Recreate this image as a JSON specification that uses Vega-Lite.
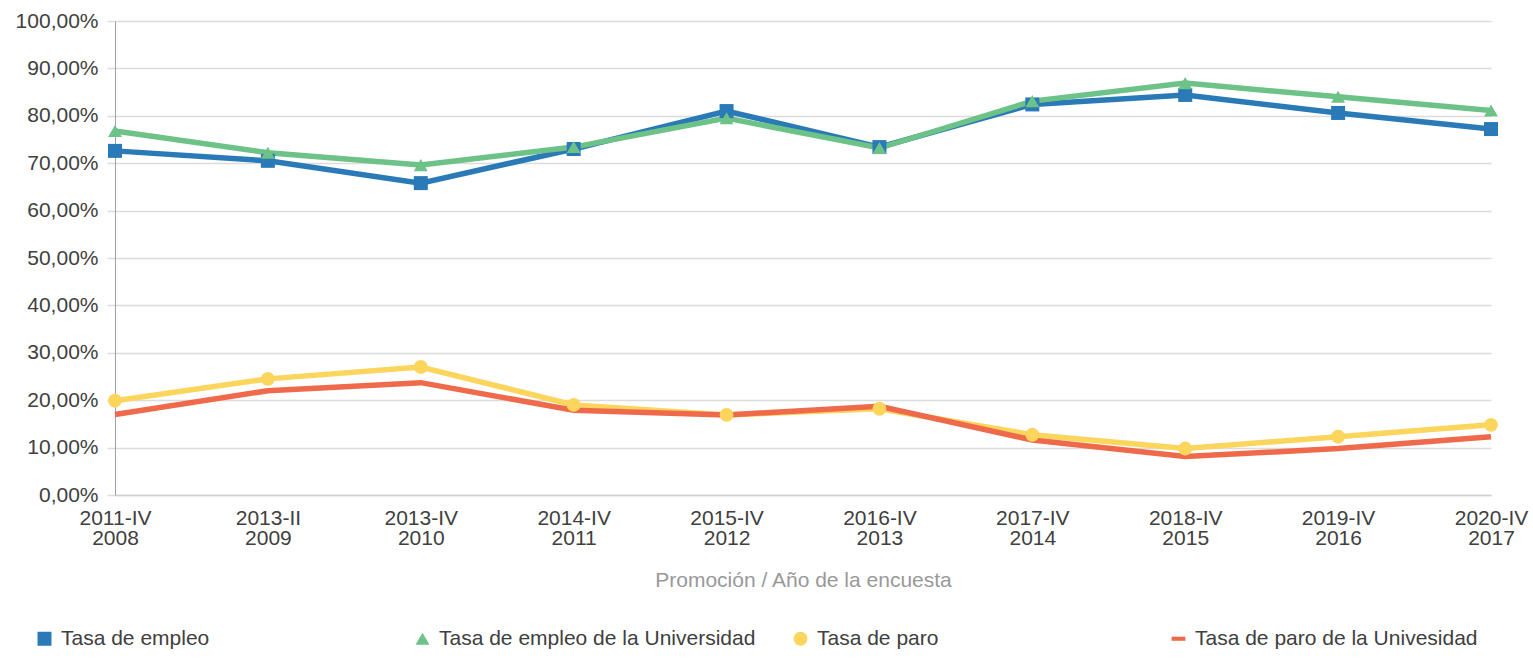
{
  "$schema": "https://vega.github.io/schema/vega-lite/v6.json",
  "width": 1376,
  "height": 474,
  "autosize": {"type": "none"},
  "padding": {"left": 115, "top": 21, "right": 42, "bottom": 165},
  "background": "white",
  "config": {"font": "Liberation Sans", "view": {"stroke": null}},
  "data": {
    "values": [
      {"periodo": "2011-IV|2008", "serie": "Tasa de empleo", "valor": 72.6},
      {"periodo": "2013-II|2009", "serie": "Tasa de empleo", "valor": 70.5},
      {"periodo": "2013-IV|2010", "serie": "Tasa de empleo", "valor": 65.8},
      {"periodo": "2014-IV|2011", "serie": "Tasa de empleo", "valor": 73.0},
      {"periodo": "2015-IV|2012", "serie": "Tasa de empleo", "valor": 81.0},
      {"periodo": "2016-IV|2013", "serie": "Tasa de empleo", "valor": 73.4},
      {"periodo": "2017-IV|2014", "serie": "Tasa de empleo", "valor": 82.4},
      {"periodo": "2018-IV|2015", "serie": "Tasa de empleo", "valor": 84.4},
      {"periodo": "2019-IV|2016", "serie": "Tasa de empleo", "valor": 80.6},
      {"periodo": "2020-IV|2017", "serie": "Tasa de empleo", "valor": 77.2},
      {"periodo": "2011-IV|2008", "serie": "Tasa de empleo de la Universidad", "valor": 76.8},
      {"periodo": "2013-II|2009", "serie": "Tasa de empleo de la Universidad", "valor": 72.2},
      {"periodo": "2013-IV|2010", "serie": "Tasa de empleo de la Universidad", "valor": 69.6},
      {"periodo": "2014-IV|2011", "serie": "Tasa de empleo de la Universidad", "valor": 73.4},
      {"periodo": "2015-IV|2012", "serie": "Tasa de empleo de la Universidad", "valor": 79.5},
      {"periodo": "2016-IV|2013", "serie": "Tasa de empleo de la Universidad", "valor": 73.2},
      {"periodo": "2017-IV|2014", "serie": "Tasa de empleo de la Universidad", "valor": 83.1},
      {"periodo": "2018-IV|2015", "serie": "Tasa de empleo de la Universidad", "valor": 86.9},
      {"periodo": "2019-IV|2016", "serie": "Tasa de empleo de la Universidad", "valor": 84.0},
      {"periodo": "2020-IV|2017", "serie": "Tasa de empleo de la Universidad", "valor": 81.1},
      {"periodo": "2011-IV|2008", "serie": "Tasa de paro", "valor": 19.9},
      {"periodo": "2013-II|2009", "serie": "Tasa de paro", "valor": 24.5},
      {"periodo": "2013-IV|2010", "serie": "Tasa de paro", "valor": 27.0},
      {"periodo": "2014-IV|2011", "serie": "Tasa de paro", "valor": 19.0},
      {"periodo": "2015-IV|2012", "serie": "Tasa de paro", "valor": 16.9},
      {"periodo": "2016-IV|2013", "serie": "Tasa de paro", "valor": 18.2},
      {"periodo": "2017-IV|2014", "serie": "Tasa de paro", "valor": 12.7},
      {"periodo": "2018-IV|2015", "serie": "Tasa de paro", "valor": 9.8},
      {"periodo": "2019-IV|2016", "serie": "Tasa de paro", "valor": 12.3},
      {"periodo": "2020-IV|2017", "serie": "Tasa de paro", "valor": 14.8},
      {"periodo": "2011-IV|2008", "serie": "Tasa de paro de la Univesidad", "valor": 17.0},
      {"periodo": "2013-II|2009", "serie": "Tasa de paro de la Univesidad", "valor": 22.0},
      {"periodo": "2013-IV|2010", "serie": "Tasa de paro de la Univesidad", "valor": 23.7},
      {"periodo": "2014-IV|2011", "serie": "Tasa de paro de la Univesidad", "valor": 17.9},
      {"periodo": "2015-IV|2012", "serie": "Tasa de paro de la Univesidad", "valor": 16.9},
      {"periodo": "2016-IV|2013", "serie": "Tasa de paro de la Univesidad", "valor": 18.7},
      {"periodo": "2017-IV|2014", "serie": "Tasa de paro de la Univesidad", "valor": 11.6},
      {"periodo": "2018-IV|2015", "serie": "Tasa de paro de la Univesidad", "valor": 8.1},
      {"periodo": "2019-IV|2016", "serie": "Tasa de paro de la Univesidad", "valor": 9.8},
      {"periodo": "2020-IV|2017", "serie": "Tasa de paro de la Univesidad", "valor": 12.3}
    ]
  },
  "encoding": {
    "x": {
      "field": "periodo",
      "type": "ordinal",
      "sort": null,
      "scale": {"type": "point", "padding": 0},
      "axis": {
        "title": "Promoción / Año de la encuesta",
        "labelExpr": "split(datum.label, '|')",
        "labelAngle": 0,
        "labelFontSize": 21,
        "labelLineHeight": 20,
        "labelColor": "#404040",
        "labelPadding": 12,
        "labelLimit": 0,
        "ticks": false,
        "grid": false,
        "domainColor": "#d0d0d0",
        "domainWidth": 1.5,
        "titleColor": "#999999",
        "titleFontSize": 21,
        "titleFontWeight": "normal",
        "titlePadding": 21
      }
    },
    "y": {
      "field": "valor",
      "type": "quantitative",
      "scale": {"domain": [0, 100]},
      "axis": {
        "title": null,
        "values": [0, 10, 20, 30, 40, 50, 60, 70, 80, 90, 100],
        "labelExpr": "replace(format(datum.value, '.2f'), '.', ',') + '%'",
        "labelFontSize": 21,
        "labelColor": "#404040",
        "labelPadding": 9,
        "labelLimit": 0,
        "tickSize": 8,
        "tickColor": "#dcdcdc",
        "tickWidth": 1.5,
        "domainColor": "#a0a0a0",
        "gridColor": "#dcdcdc",
        "gridWidth": 1.5
      }
    },
    "color": {
      "field": "serie",
      "type": "nominal",
      "scale": {
        "domain": ["Tasa de empleo", "Tasa de empleo de la Universidad", "Tasa de paro", "Tasa de paro de la Univesidad"],
        "range": ["#2a7ab8", "#6cc287", "#fbd55c", "#ef6a4a"]
      },
      "legend": {
        "title": null,
        "orient": "none",
        "legendX": -81,
        "legendY": 607,
        "direction": "horizontal",
        "columns": 4,
        "gridAlign": "all",
        "columnPadding": 34,
        "labelFontSize": 21,
        "labelColor": "#404040",
        "labelOffset": 6,
        "labelLimit": 0,
        "symbolSize": 220,
        "symbolStrokeWidth": 0,
        "symbolOpacity": 1,
        "padding": 0
      }
    }
  },
  "layer": [
    {"mark": {"type": "line", "strokeWidth": 5.5}},
    {
      "transform": [{"filter": "datum.serie !== 'Tasa de paro de la Univesidad'"}],
      "mark": {"type": "point", "filled": true, "opacity": 1},
      "encoding": {
        "shape": {
          "field": "serie",
          "type": "nominal",
          "scale": {
            "domain": ["Tasa de empleo", "Tasa de empleo de la Universidad", "Tasa de paro", "Tasa de paro de la Univesidad"],
            "range": ["square", "triangle-up", "circle", "M-1,-0.3L1,-0.3L1,0.3L-1,0.3Z"]
          }
        },
        "size": {
          "field": "serie",
          "type": "nominal",
          "scale": {
            "domain": ["Tasa de empleo", "Tasa de empleo de la Universidad", "Tasa de paro", "Tasa de paro de la Univesidad"],
            "range": [196, 190, 140, 100]
          },
          "legend": null
        }
      }
    }
  ]
}
